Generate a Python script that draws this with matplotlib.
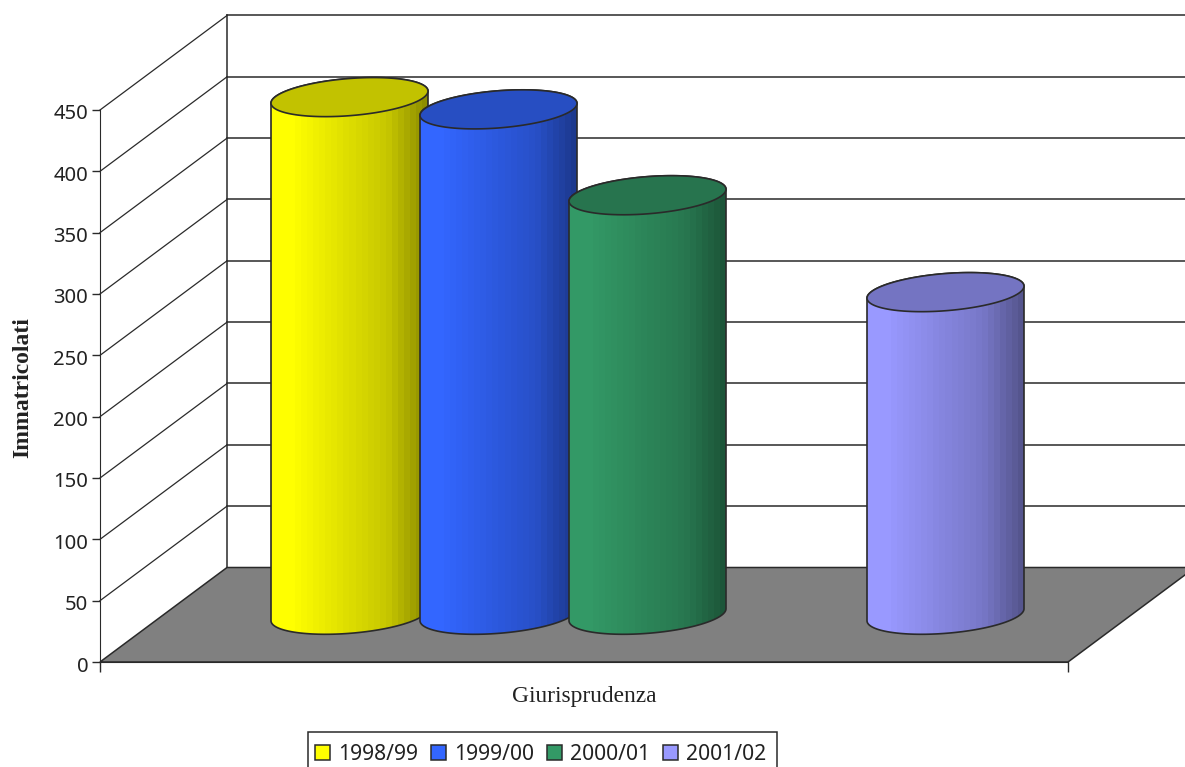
import numpy as np
import matplotlib
matplotlib.use('Agg')
import matplotlib.pyplot as plt
from matplotlib.patches import Polygon, Patch, Rectangle
from matplotlib.colors import to_rgb
from matplotlib.transforms import ScaledTranslation

series = ['1998/99', '1999/00', '2000/01', '2001/02']
values = [422, 412, 342, 263]
colors = ['#FFFF00', '#3366FF', '#339966', '#9999FF']
slots = [0, 1, 2, 4]  # the fourth slot of the group stays empty
y_ticks = [0, 50, 100, 150, 200, 250, 300, 350, 400, 450]
category = 'Giurisprudenza'
y_title = 'Immatricolati'

# pixel scale of the picture -> data units
px_x = 149.0  # one slot
px_y = 552 / 450
W, H = 1185, 767
x0_px, y0_px = 100, 662

dx = 127 / px_x   # 3d depth offset
dy = 94.5 / px_y
group_w = 968 / px_x
gap = (group_w - 5) / 2
rx = 78.5 / px_x
ry = 18.6 / px_y
tilt = 6.0 / px_y
ink = '#2a2a2a'

fig = plt.figure(figsize=(W / 100, H / 100), dpi=100)
ax = fig.add_axes([0, 0, 1, 1])
xlim = (-x0_px / px_x, (W - x0_px) / px_x)
ylim = ((y0_px - H) / px_y, y0_px / px_y)

# walls and floor
top = y_ticks[-1]
ax.add_patch(Polygon([(0, 0), (dx, dy), (group_w + dx, dy), (group_w, 0)],
                     closed=True, fc='#808080', ec=ink, lw=1.1, zorder=2))
ax.plot([dx, dx], [dy, top + dy], color=ink, lw=1.1, zorder=1)
for v in y_ticks[1:]:
    ax.plot([0, dx], [v, v + dy], color=ink, lw=0.9, zorder=1)
    ax.plot([dx, group_w + dx], [v + dy, v + dy], color=ink, lw=1.1, zorder=1)


def ring(cx, cy, t):
    return np.column_stack([cx + rx * np.cos(t), cy + ry * np.sin(t) + tilt * np.cos(t)])


# cylinders
for i, (slot, val, col) in enumerate(zip(slots, values, colors)):
    cx = gap + slot + 0.5 + dx / 2
    base = dy / 2
    lower = ring(cx, base, np.linspace(np.pi, 2 * np.pi, 80))
    upper = ring(cx, base + val, np.linspace(0, np.pi, 80))
    body = np.vstack([lower, upper])
    z = 3 + i
    clip = Polygon(body, closed=True, fc='none', ec=ink, lw=1.2, zorder=z + 0.2)
    ax.add_patch(clip)
    # stepped shading from left to right
    steps = np.linspace(0, 1, 26)
    shade = np.interp(steps, [0, 0.12, 0.75, 1], [1, 1, 0.78, 0.56])
    strip = (np.outer(shade, to_rgb(col))).reshape(1, -1, 3)
    im = ax.imshow(strip, extent=(cx - rx, cx + rx, base - 40, base + val + 40),
                   aspect='auto', interpolation='nearest', zorder=z)
    im.set_clip_path(clip)
    lid = ring(cx, base + val, np.linspace(0, 2 * np.pi, 160))
    lid_col = np.array(to_rgb(col)) * 0.76
    ax.add_patch(Polygon(lid, closed=True, fc=lid_col, ec=ink, lw=1.2, zorder=z + 0.4))

ax.set_xlim(xlim)
ax.set_ylim(ylim)

# axes
for s in ['top', 'right']:
    ax.spines[s].set_visible(False)
ax.spines['left'].set_position(('data', 0))
ax.spines['left'].set_bounds(0, top)
ax.spines['bottom'].set_position(('data', 0))
ax.spines['bottom'].set_bounds(0, group_w)
ax.spines['left'].set_color(ink)
ax.spines['bottom'].set_color(ink)
ax.spines['left'].set_zorder(2.5)
ax.spines['bottom'].set_zorder(2.5)
ax.patch.set_visible(False)
ax.set_yticks(y_ticks)
ax.set_xticks([0, group_w])
ax.set_xticklabels([])
ax.tick_params(axis='y', length=6, width=1, color=ink, labelsize=14.6, labelcolor='#222222', pad=2.5)
ax.tick_params(axis='x', length=7.5, width=1, color=ink)
nudge = ScaledTranslation(0, -2 / 100, fig.dpi_scale_trans)
for lab in ax.get_yticklabels():
    lab.set_family('Noto Sans')
    lab.set_transform(lab.get_transform() + nudge)

ax.text(group_w / 2, -28, category, family='Liberation Serif', fontsize=16.8,
        color='#222222', ha='center', va='center')
ax.text(-0.52, 224, y_title, family='Liberation Serif', fontsize=17, weight='bold',
        color='#222222', rotation=90, ha='center', va='center')

# legend, its frame runs off the bottom of the picture
fig.add_artist(Rectangle((308 / W, -5 / H), 469 / W, (H - 732 + 5) / H, transform=fig.transFigure,
                         fc='white', ec=ink, lw=1.1))
handles = [Patch(fc=c, ec=ink, lw=1.1) for c in colors]
leg = fig.legend(handles, series, loc='upper left', bbox_to_anchor=(315 / W, 1 - 744 / H),
                 ncol=4, frameon=False,
                 prop={'family': 'Noto Sans', 'size': 15.2}, labelcolor='#222222',
                 handlelength=0.71, handleheight=0.71, handletextpad=0.38,
                 columnspacing=0.62, borderpad=0, borderaxespad=0)

fig.savefig('out.png', dpi=100)
